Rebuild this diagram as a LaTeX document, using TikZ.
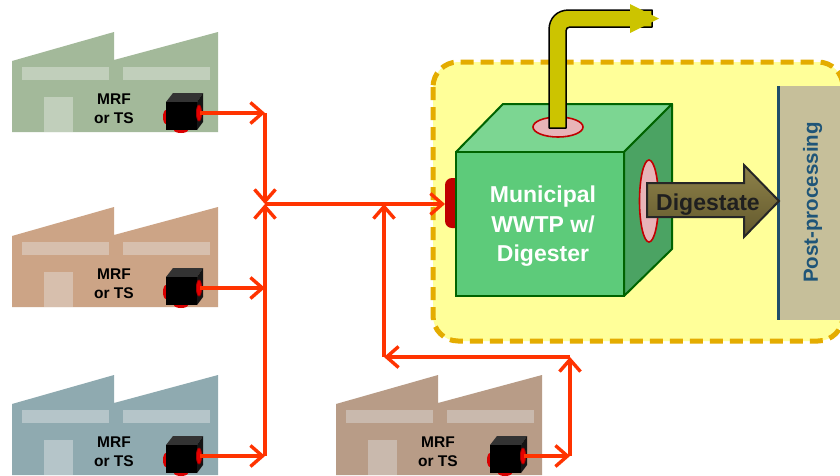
\documentclass[tikz,border=0pt]{standalone}
\usepackage{fontspec}
\setmainfont{Liberation Sans}
\usetikzlibrary{arrows.meta}

\definecolor{flowred}{RGB}{255,51,0}
\definecolor{zonefill}{RGB}{255,255,153}
\definecolor{zoneedge}{RGB}{228,172,0}
\definecolor{cubefront}{RGB}{93,203,122}
\definecolor{cubetop}{RGB}{124,214,146}
\definecolor{cubeside}{RGB}{75,163,99}
\definecolor{cubeline}{RGB}{0,100,0}
\definecolor{portpink}{RGB}{232,180,184}
\definecolor{portred}{RGB}{192,0,0}
\definecolor{pipeolive}{RGB}{204,196,0}
\definecolor{postfill}{RGB}{198,191,154}
\definecolor{postline}{RGB}{31,78,107}
\definecolor{posttext}{RGB}{31,85,120}
\definecolor{digtop}{RGB}{142,130,74}
\definecolor{digbot}{RGB}{98,88,44}
\definecolor{greenbody}{RGB}{163,185,154}
\definecolor{greenwin}{RGB}{193,207,187}
\definecolor{tanbody}{RGB}{204,164,134}
\definecolor{tanwin}{RGB}{215,191,173}
\definecolor{bluebody}{RGB}{143,170,176}
\definecolor{bluewin}{RGB}{181,197,201}
\definecolor{brownbody}{RGB}{184,156,135}
\definecolor{brownwin}{RGB}{201,185,173}

\tikzset{
  flow/.style={draw=flowred, line width=3.4pt,
    -{Straight Barb[length=12pt,width=21pt]}},
  plantlabel/.style={font=\fontsize{15.5}{19}\selectfont\bfseries,
    align=center, inner sep=0pt},
  pinkport/.style={fill=portpink, draw=portred, line width=1.6pt},
}

% one sawtooth-roof plant with its black outlet box
% #1 shift, #2 body colour, #3 window colour, #4 name prefix
\newcommand{\plantbuilding}[4]{%
  \begin{scope}[shift={#1}]
    \fill[#2] (12,132) -- (12,61) -- (114,32) -- (114,60) -- (218,32)
      -- (218,132) -- cycle;
    \fill[#3] (22,67) rectangle (109,80);
    \fill[#3] (123,67) rectangle (210,80);
    \fill[#3] (44,97) rectangle (73,132);
    \node[plantlabel] (#4-label) at (114,108.7) {MRF\\or TS};
    % small outlet box
    \fill[red!85!black] (166,117) ellipse [x radius=3, y radius=7];
    \fill[red!85!black] (181,130) ellipse [x radius=7, y radius=3];
    \fill[black!80] (166,102) -- (173,93) -- (203,93) -- (197,102) -- cycle;
    \fill[black!92] (197,102) -- (203,93) -- (203,122) -- (197,130) -- cycle;
    \fill[black] (166,102) rectangle (197,130);
    \filldraw[fill=red!90!black, draw=red!65!black, line width=0.8pt]
      (199,113) ellipse [x radius=2.6, y radius=8];
    \coordinate (#4-out) at (200,113);
  \end{scope}}

\begin{document}
\begin{tikzpicture}[x=1pt,y=-1pt]
\clip (0,0) rectangle (840,475);
\fill[white] (0,0) rectangle (840,475);

% treatment zone
\draw[fill=zonefill, draw=zoneedge, line width=5pt,
  dash pattern=on 13pt off 7pt, rounded corners=25pt]
  (433,62) rectangle (843,341);

% post-processing panel
\fill[postfill] (778,86) rectangle (842,320);
\draw[postline, line width=3pt] (778,86) -- (778,320);
\node[rotate=90, text=posttext, font=\fontsize{20.5}{24}\selectfont\bfseries,
  inner sep=0pt] (post) at (812.5,202.5) {Post-processing};

% inlet nozzle
\fill[portred, rounded corners=7pt] (462,178) -- (445,178) -- (445,228)
  -- (462,228) -- cycle;

% digester cube
\filldraw[fill=cubetop, draw=cubeline, line width=2pt, line join=round]
  (456,152) -- (503,104) -- (672,104) -- (624,152) -- cycle;
\filldraw[fill=cubeside, draw=cubeline, line width=2pt, line join=round]
  (624,152) -- (672,104) -- (672,249) -- (624,296) -- cycle;
\filldraw[fill=cubefront, draw=cubeline, line width=2pt]
  (456,152) rectangle (624,296);
\node[text=white, font=\fontsize{23}{29.5}\selectfont\bfseries, align=center,
  inner sep=0pt] (wwtp) at (543,226.5) {Municipal\\WWTP w/\\Digester};

% ports
\draw[pinkport] (558,127) ellipse [x radius=25, y radius=10];
\draw[pinkport] (649,201) ellipse [x radius=9.5, y radius=41];

% gas pipe leaving the top
\filldraw[fill=pipeolive, draw=black, line width=1.5pt, line join=round]
  (549,128) -- (549,30) .. controls (549,18) and (557,10) .. (569,10)
  -- (652,10) -- (652,27) -- (570,27)
  .. controls (567.5,27) and (566,28.5) .. (566,31) -- (566,128) -- cycle;
\fill[pipeolive] (630,4) -- (659,18.5) -- (630,33) -- cycle;

% digestate arrow
\draw[top color=digtop, bottom color=digbot, draw=black!85, line width=2pt,
  line join=miter]
  (647,183) -- (744,183) -- (744,165) -- (779,201) -- (744,237)
  -- (744,217) -- (647,217) -- cycle;
\node[anchor=base, text=black!88, font=\fontsize{23}{28}\selectfont\bfseries,
  inner sep=0pt] (digestate) at (708,210) {Digestate};

% source plants
\plantbuilding{(0,0)}{greenbody}{greenwin}{p1}
\plantbuilding{(0,175)}{tanbody}{tanwin}{p2}
\plantbuilding{(0,343)}{bluebody}{bluewin}{p3}
\plantbuilding{(324,343)}{brownbody}{brownwin}{p4}

% collection network
\coordinate (j1) at (265,113);
\coordinate (hub) at (265,204);
\coordinate (j2) at (265,288);
\coordinate (j3) at (265,456);
\coordinate (inlet) at (445,204);
\coordinate (tap) at (384,204);
\coordinate (k1) at (384,357);
\coordinate (k2) at (570,357);
\coordinate (j4) at (570,456);

\draw[flow] (p1-out) -- (j1);
\draw[flow] (j1) -- (hub);
\draw[flow] (p2-out) -- (j2);
\draw[flow] (p3-out) -- (j3);
\draw[flow] (j3) -- (hub);
\draw[flow] (hub) -- (inlet);
\draw[flow] (p4-out) -- (j4);
\draw[flow] (j4) -- (k2);
\draw[flow] (k2) -- (k1);
\draw[flow] (k1) -- (tap);
\end{tikzpicture}
\end{document}
